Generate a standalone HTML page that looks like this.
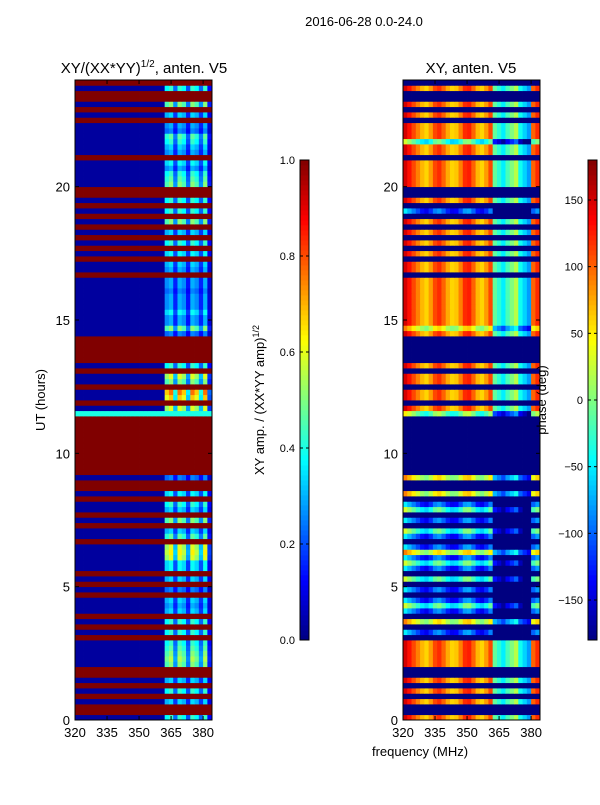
<!DOCTYPE html>
<html><head><meta charset="utf-8">
<style>
body{margin:0;background:#fff;font-family:"Liberation Sans",sans-serif}
svg text{font-family:"Liberation Sans",sans-serif;fill:#000}
</style></head>
<body>
<svg id="c" width="600" height="800" xmlns="http://www.w3.org/2000/svg">
<rect width="600" height="800" fill="#fff"/>
<text x="364" y="26" font-size="13" text-anchor="middle">2016-06-28 0.0-24.0</text>
<text x="144" y="73" font-size="15" text-anchor="middle">XY/(XX*YY)<tspan font-size="10" dy="-6">1/2</tspan><tspan dy="6">, anten. V5</tspan></text>
<text x="471" y="73" font-size="15" text-anchor="middle">XY, anten. V5</text>
<text transform="translate(45,400) rotate(-90)" font-size="13" text-anchor="middle">UT (hours)</text>
<text x="420" y="756" font-size="13" text-anchor="middle">frequency (MHz)</text>
<text transform="translate(264,400) rotate(-90)" font-size="13" text-anchor="middle">XY amp. / (XX*YY amp)<tspan font-size="9" dy="-5">1/2</tspan></text>
<g id="left"></g>
<g id="right"></g>
<g id="cb"></g>
<text transform="translate(546,400) rotate(-90)" font-size="13" text-anchor="middle">phase (deg)</text>
</svg>
<script>
// 0.2-hour rows from 0h; 1 = flagged
const ampHigh=[0.5,1,1,0.4,1,0.5,1,0.4,1,1,
0.6,0.65,0.6,0.55,0.5,1,0.5,1,0.5,1,
0.4,0.35,0.4,1,0.3,1,0.4,1,0.45,0.45,
0.7,0.75,0.7,1,0.55,0.4,1,0.6,1,0.4,
0.5,1,0.45,1,1,0.3,1,1,1,1,
1,1,1,1,1,1,1,0.4,0.7,1,
0.8,0.9,1,0.6,0.7,1,0.5,1,1,1,
1,1,0.3,0.6,0.35,0.35,0.45,0.35,0.35,0.35,
0.3,0.35,0.35,1,0.35,0.4,1,0.45,1,0.5,
1,0.4,1,0.6,1,0.5,1,0.5,1,1,
0.6,0.55,0.5,0.35,0.45,1,0.35,0.4,0.5,0.55,
0.3,0.35,1,0.4,1,0.6,1,1,0.5,1];
const fullRows=[57];
const phaseShift=[0,0,0,0,0,0,0,0,0,0,
0,0,0,0,0,0,-200,0,-60,0,
-200,-120,-200,0,-200,0,-120,0,-200,-120,
-200,-60,-200,0,-200,-120,0,-200,0,-120,
-200,0,-60,0,0,-60,0,0,0,0,
0,0,0,0,0,0,0,-100,0,0,
0,0,0,0,0,0,0,0,0,0,
0,0,0,-60,0,0,0,0,0,0,
0,0,0,0,0,0,0,0,0,0,
0,0,0,0,0,-200,0,0,0,0,
0,0,0,0,0,0,0,0,-120,0,
0,0,0,0,0,0,0,0,0,0];
const freqs=[320,322,324,326,328,330,332,334,336,338,340,342,344,346,348,350,352,354,356,358,360,362,364,366,368,370,372,374,376,378,380,382];
const colGain=[0,0,0,0,0,0,0,0,0,0,0,0,0,0,0,0,0,0,0,0,0,0.75,0.85,0.45,0.85,0.75,0.4,0.85,0.75,0.45,0.85,0.25];
const colPhase=[150,130,110,90,70,60,80,110,120,100,75,60,65,90,120,125,100,70,60,80,110,-10,-30,-50,-20,0,20,-40,-60,-80,100,120];
const xTicks=[320,335,350,365,380];
const yTicks=[0,5,10,15,20];
const ampTicks=[0,0.2,0.4,0.6,0.8,1.0];
const phTicks=[-150,-100,-50,0,50,100,150];

const NS="http://www.w3.org/2000/svg";
const Y0=720,Y1=80;
function yS(h){return Y0-(h/24)*(Y0-Y1);}
function xS(f,x0){return x0+(f-320)*2.135;}
function clamp(v){return Math.max(0,Math.min(1,v));}
function jet(t){t=clamp(t);
 const r=clamp(Math.min(4*t-1.5,-4*t+4.5)),g=clamp(Math.min(4*t-0.5,-4*t+3.5)),b=clamp(Math.min(4*t+0.5,-4*t+2.5));
 return `rgb(${Math.round(r*255)},${Math.round(g*255)},${Math.round(b*255)})`;}
function mk(tag,at,par){const e=document.createElementNS(NS,tag);for(const k in at)e.setAttribute(k,at[k]);par.appendChild(e);return e;}
function panel(g,x0,valFn){
 const rh=(Y0-Y1)/ampHigh.length;
 for(let i=0;i<ampHigh.length;i++){
  for(let j=0;j<freqs.length;j++){
   const x=xS(freqs[j],x0),w=xS(freqs[j]+2,x0)-x;
   const r=mk('rect',{x:x,y:yS((i+1)*0.2),width:w+0.4,height:rh+0.4,fill:jet(valFn(i,j))},g);
   
   
  }
 }
 mk('rect',{x:x0,y:Y1,width:137,height:Y0-Y1,fill:'none',stroke:'#000','stroke-width':1},g);
 xTicks.forEach(f=>{const x=xS(f,x0);
  mk('line',{x1:x,x2:x,y1:Y0,y2:Y0-4,stroke:'#000'},g);mk('line',{x1:x,x2:x,y1:Y1,y2:Y1+4,stroke:'#000'},g);
  const t=mk('text',{x:x,y:Y0+17,'font-size':13,'text-anchor':'middle'},g);t.textContent=f;
  });
 yTicks.forEach(h=>{const y=yS(h);
  mk('line',{x1:x0,x2:x0+4,y1:y,y2:y,stroke:'#000'},g);mk('line',{x1:x0+137,x2:x0+133,y1:y,y2:y,stroke:'#000'},g);
  const t=mk('text',{x:x0-5,y:y+5,'font-size':13,'text-anchor':'end'},g);t.textContent=h;
  });
}
panel(document.getElementById('left'),75,(i,j)=>{
 const a=ampHigh[i];if(a>=1)return 1;
 if(fullRows.includes(i))return a;
 return colGain[j]>0?a*colGain[j]:0.03;});
panel(document.getElementById('right'),403,(i,j)=>{
 if(ampHigh[i]>=1)return 0;
 let p=colPhase[j]+phaseShift[i];if(p<-180)p=-180;
 return (p+180)/360;});
// colorbars
const cb=document.getElementById('cb');
function bar(x,ticks,toT,fmt){
 for(let k=0;k<96;k++){const r=mk('rect',{x:x,y:640-(k+1)*5,width:9,height:5.4,fill:jet((k+0.5)/96)},cb);
  }
 mk('rect',{x:x,y:160,width:9,height:480,fill:'none',stroke:'#000'},cb);
 ticks.forEach(v=>{const y=640-toT(v)*480;
  mk('line',{x1:x,x2:x+3,y1:y,y2:y,stroke:'#000'},cb);mk('line',{x1:x+9,x2:x+6,y1:y,y2:y,stroke:'#000'},cb);
  const t=mk('text',{x:x-5,y:y+4,'font-size':11,'text-anchor':'end'},cb);
  t.textContent=fmt(v);});
}
bar(300,ampTicks,v=>v,v=>v.toFixed(1));
bar(588,phTicks,v=>(v+180)/360,v=>v<0?'\u2212'+(-v):''+v);
</script>
</body></html>
